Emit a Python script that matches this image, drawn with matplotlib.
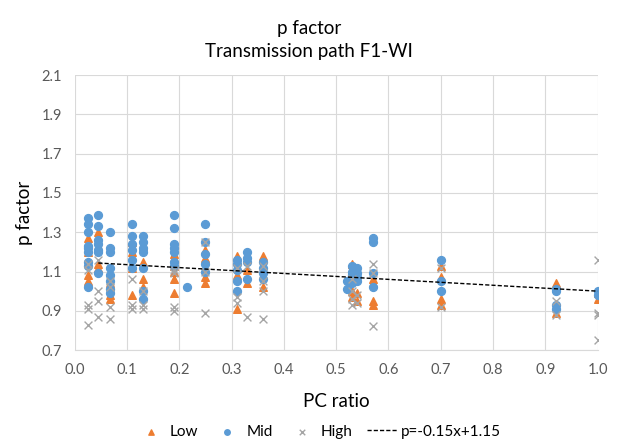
import numpy as np
import matplotlib.pyplot as plt

plt.rcParams['font.family'] = ['Lato', 'DejaVu Sans']

# ---- data ----
low_x = [0.025]*5 + [0.045]*4 + [0.068]*3 + [0.11]*4 + [0.13]*4 + [0.19]*6 + [0.25]*4 \
    + [0.31]*3 + [0.33]*2 + [0.36]*2 + [0.53]*3 + [0.54]*2 + [0.57]*4 + [0.70]*4 + [0.92]*2 + [1.0]*2
low_y = [1.27, 1.20, 1.15, 1.08, 1.05,
         1.30, 1.23, 1.14, 1.12,
         0.96, 0.98, 1.04,
         1.25, 1.20, 1.12, 0.98,
         1.23, 1.15, 1.06, 1.02,
         1.19, 1.17, 1.13, 1.10, 1.06, 0.99,
         1.21, 1.17, 1.07, 1.04,
         1.18, 1.08, 0.91,
         1.11, 1.04,
         1.18, 1.02,
         1.14, 1.00, 0.97,
         0.99, 0.95,
         1.06, 1.04, 0.95, 0.93,
         1.13, 1.07, 0.96, 0.93,
         1.04, 0.89,
         0.99, 0.96]

mid_x = [0.025]*9 + [0.045]*7 + [0.068]*8 + [0.11]*6 + [0.13]*7 + [0.19]*7 + [0.215] + [0.25]*5 \
    + [0.31]*5 + [0.33]*4 + [0.36]*4 + [0.52]*2 + [0.53]*5 + [0.54]*4 + [0.57]*4 + [0.70]*3 + [0.92]*4 + [1.0]*2
mid_y = [1.37, 1.34, 1.30, 1.23, 1.22, 1.20, 1.15, 1.13, 1.02,
         1.39, 1.33, 1.26, 1.24, 1.21, 1.20, 1.09,
         1.30, 1.22, 1.20, 1.12, 1.08, 1.05, 1.01, 0.99,
         1.34, 1.28, 1.24, 1.21, 1.16, 1.12,
         1.28, 1.25, 1.22, 1.20, 1.12, 1.00, 0.96,
         1.39, 1.32, 1.24, 1.22, 1.20, 1.15, 1.13,
         1.02,
         1.34, 1.25, 1.19, 1.14, 1.10,
         1.16, 1.14, 1.11, 1.05, 1.00,
         1.20, 1.17, 1.15, 1.06,
         1.15, 1.12, 1.09, 1.06,
         1.05, 1.01,
         1.13, 1.10, 1.08, 1.06, 1.04,
         1.12, 1.09, 1.07, 1.05,
         1.27, 1.25, 1.09, 1.02,
         1.16, 1.05, 1.00,
         1.01, 1.00, 0.93, 0.91,
         1.00, 0.98]

high_x = [0.025]*5 + [0.045]*4 + [0.068]*4 + [0.11]*3 + [0.13]*3 + [0.19]*4 + [0.25]*3 \
    + [0.31]*3 + [0.33]*2 + [0.36]*4 + [0.53]*4 + [0.54]*2 + [0.57]*3 + [0.70]*2 + [0.92]*2 + [1.0]*4
high_y = [1.14, 1.11, 0.93, 0.91, 0.83,
          1.16, 1.00, 0.95, 0.87,
          1.05, 1.02, 0.92, 0.86,
          1.06, 0.93, 0.91,
          1.00, 0.93, 0.91,
          1.11, 1.09, 0.92, 0.90,
          1.25, 1.10, 0.89,
          1.12, 0.97, 0.94,
          1.13, 0.87,
          1.13, 1.05, 1.00, 0.86,
          1.06, 1.00, 0.96, 0.93,
          0.98, 0.94,
          1.14, 1.09, 0.82,
          1.12, 0.92,
          0.95, 0.88,
          1.16, 0.89, 0.88, 0.75]

# trend line p = -0.15x + 1.15
slope = -0.15
intercept = 1.15
trend_x = np.array([0.045, 1.0])

fig = plt.figure(figsize=(6.18, 4.42), dpi=100)
ax = fig.add_axes([0.121, 0.208, 0.846, 0.622])

ax.scatter(low_x, low_y, marker='^', s=30, color='#ED7D31', label='Low', zorder=3)
ax.scatter(mid_x, mid_y, marker='o', s=32, color='#5B9BD5', label='Mid', zorder=3)
ax.scatter(high_x, high_y, marker='x', s=32, color='#A5A5A5', linewidths=1.0, label='High', zorder=3)
ax.plot(trend_x, slope*trend_x + intercept, color='black', linestyle=(0, (3, 1.5)),
        linewidth=1.0, label='p=-0.15x+1.15', zorder=4)

ax.set_xlim(0, 1.0)
ax.set_ylim(0.7, 2.1)
ax.set_xticks(np.arange(0, 1.01, 0.1))
ax.set_yticks(np.arange(0.7, 2.11, 0.2))
ax.set_xticklabels([f'{v:.1f}' for v in np.arange(0, 1.01, 0.1)])
ax.set_yticklabels([f'{v:.1f}' for v in np.arange(0.7, 2.11, 0.2)])
ax.tick_params(length=0, labelsize=10.5, colors='#595959')
ax.tick_params(axis='x', pad=9)
ax.tick_params(axis='y', pad=9)
ax.grid(True, color='#D9D9D9', linewidth=0.8)
ax.set_axisbelow(True)
for side in ['top', 'right', 'left']:
    ax.spines[side].set_visible(False)
ax.spines['bottom'].set_color('#D9D9D9')

ax.set_xlabel('PC ratio', fontsize=13.5, labelpad=12)
ax.set_ylabel('p factor', fontsize=13.5, labelpad=6)

# Excel centres the title and legend on the whole chart
fig.text(0.5, 0.955, 'p factor\nTransmission path F1-WI', fontsize=13.5, ha='center', va='top',
         linespacing=1.45)

fig.legend(*ax.get_legend_handles_labels(), loc='center', bbox_to_anchor=(0.515, 0.023), ncol=4,
           frameon=False, fontsize=11, handlelength=2.0, handletextpad=0.25, columnspacing=0.9,
           markerscale=0.7)

plt.savefig('out.png', dpi=100)
